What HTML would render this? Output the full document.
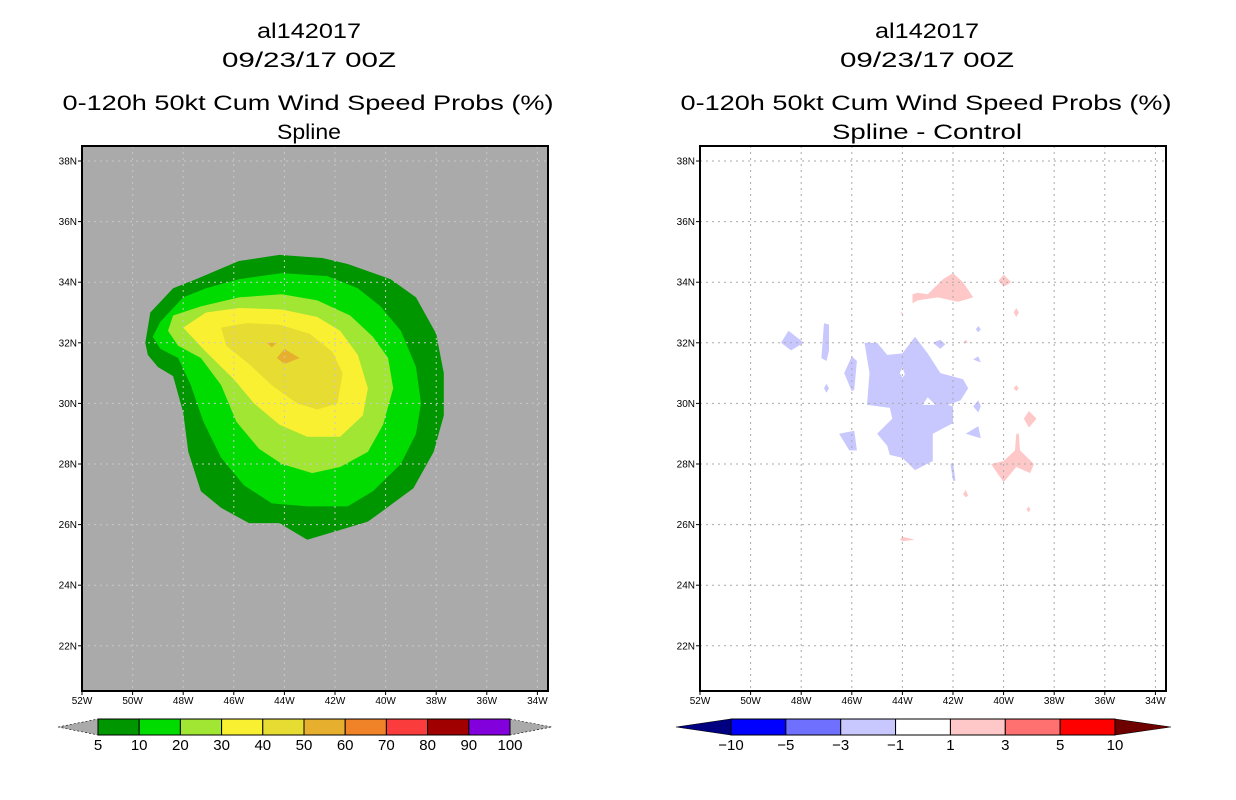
<!DOCTYPE html>
<html><head><meta charset="utf-8"><style>
html,body{margin:0;padding:0;background:#fff;}
svg{display:block;font-family:"Liberation Sans",sans-serif;}
</style></head><body>
<svg id="chart" width="1236" height="800" viewBox="0 0 1236 800">
<rect width="1236" height="800" fill="#fff"/>
<g id="titles">
<text x="309" y="38" font-size="21" text-anchor="middle" textLength="104" lengthAdjust="spacingAndGlyphs">al142017</text>
<text x="309" y="67" font-size="21" text-anchor="middle" textLength="174" lengthAdjust="spacingAndGlyphs">09/23/17 00Z</text>
<text x="308" y="110" font-size="21" text-anchor="middle" textLength="491" lengthAdjust="spacingAndGlyphs">0-120h 50kt Cum Wind Speed Probs (%)</text>
<text x="309" y="139" font-size="21" text-anchor="middle" textLength="64" lengthAdjust="spacingAndGlyphs">Spline</text>
<text x="927" y="38" font-size="21" text-anchor="middle" textLength="104" lengthAdjust="spacingAndGlyphs">al142017</text>
<text x="927" y="67" font-size="21" text-anchor="middle" textLength="174" lengthAdjust="spacingAndGlyphs">09/23/17 00Z</text>
<text x="926" y="110" font-size="21" text-anchor="middle" textLength="491" lengthAdjust="spacingAndGlyphs">0-120h 50kt Cum Wind Speed Probs (%)</text>
<text x="927" y="139" font-size="21" text-anchor="middle" textLength="190" lengthAdjust="spacingAndGlyphs">Spline - Control</text>
</g>
<g id="left"></g>
<g id="right"></g>
</svg>
<script>
// ---- data ----
const lonTicks = [52,50,48,46,44,42,40,38,36,34];
const latTicks = [38,36,34,32,30,28,26,24,22];
const probLevels = ['5','10','20','30','40','50','60','70','80','90','100'];
const probColors = ['#009600','#00dc00','#a0e632','#faf032','#e6dc32','#e6af2d','#f08228','#fa3c3c','#a00000','#8200dc'];
const diffLevels = ['-10','-5','-3','-1','1','3','5','10'];
const diffColors = ['#000080','#0000ff','#7070ff','#c8c8ff','#ffffff','#ffc8c8','#ff7070','#ff0000','#6e0000'];
// contour polygons, [lonW, latN]
const prob5 = [[49.5,32.0],[49.3,33.0],[48.4,33.8],[47.5,34.1],[45.8,34.7],[44.2,34.9],[42.5,34.8],[41.5,34.6],[39.8,34.1],[38.8,33.5],[38.0,32.3],[37.7,31.0],[37.7,29.6],[38.1,28.4],[38.9,27.2],[40.2,26.4],[40.7,26.1],[41.9,25.8],[43.1,25.5],[44.2,26.05],[45.4,26.05],[46.5,26.55],[47.3,27.1],[47.8,28.4],[48.0,29.7],[48.4,30.9],[49.0,31.2],[49.4,31.6]];
const prob10 = [[49.2,32.2],[48.9,32.7],[48.0,33.5],[47.1,33.8],[45.8,34.1],[44.1,34.3],[42.3,34.2],[41.1,33.8],[40.2,33.2],[39.4,32.4],[38.8,31.2],[38.6,30.0],[38.8,29.0],[39.4,28.0],[40.5,27.1],[41.5,26.6],[43.1,26.6],[44.5,26.7],[45.6,27.3],[46.5,28.2],[47.2,29.4],[47.7,30.6],[48.2,31.5],[48.9,31.8]];
const prob20 = [[48.6,32.4],[48.4,32.9],[47.3,33.2],[45.8,33.5],[44.1,33.6],[42.7,33.4],[41.4,32.9],[40.5,32.2],[39.9,31.5],[39.7,30.5],[40.1,29.3],[40.7,28.4],[41.8,27.9],[42.9,27.7],[44.1,28.0],[45.0,28.5],[45.9,29.4],[46.5,30.6],[47.3,31.5],[48.2,31.9]];
const prob30 = [[48.0,32.5],[47.1,33.0],[45.8,33.15],[44.1,33.1],[42.7,32.85],[41.8,32.4],[41.1,31.6],[40.7,30.5],[40.9,29.6],[41.8,28.9],[43.1,28.9],[44.2,29.3],[45.2,30.0],[46.0,30.8],[47.1,31.7]];
const prob40 = [[46.5,32.5],[45.5,32.65],[44.2,32.6],[43.0,32.3],[42.1,31.7],[41.7,31.0],[41.9,30.0],[42.7,29.8],[43.5,30.0],[44.5,30.6],[45.4,31.3],[46.3,31.9]];
const prob50a = [[44.3,31.5],[44.0,31.8],[43.4,31.5],[44.0,31.3]];
const prob50b = [[44.7,32.0],[44.3,32.0],[44.5,31.85]];
const diffNeg = [
 [[45.5,32.0],[45.0,32.0],[44.6,31.6],[44.0,31.65],[43.5,32.2],[43.0,31.65],[42.5,31.0],[41.6,30.8],[41.4,30.5],[41.7,30.1],[42.2,29.95],[42.0,29.9],[42.0,29.35],[42.8,29.0],[42.8,28.1],[43.5,27.8],[44.0,28.2],[44.5,28.3],[44.6,28.6],[45.0,29.0],[44.4,29.5],[44.5,29.85],[45.4,29.95],[45.3,31.0]],
 [[48.8,32.0],[48.5,32.4],[47.9,32.0],[48.4,31.75]],
 [[47.2,31.5],[47.1,32.65],[46.9,32.6],[46.9,31.75],[47.0,31.4]],
 [[46.3,31.0],[46.0,31.55],[45.8,31.4],[45.9,30.45],[46.0,30.4]],
 [[47.1,30.5],[47.0,30.65],[46.9,30.5],[47.0,30.35]],
 [[46.5,29.0],[45.9,29.1],[45.8,28.45],[46.1,28.45]],
 [[42.8,32.0],[42.5,32.1],[42.3,31.95],[42.5,31.8]],
 [[41.1,32.45],[41.0,32.55],[40.9,32.45],[41.0,32.35]],
 [[41.2,31.45],[41.0,31.55],[40.9,31.35]],
 [[41.2,29.9],[41.0,30.1],[40.9,29.9],[41.0,29.7]],
 [[41.5,29.0],[41.0,29.25],[40.9,28.85]],
 [[42.1,28.0],[42.0,28.05],[41.9,27.45],[42.0,27.45]]
];
const diffHoles = [
 [[43.2,29.95],[43.0,30.2],[42.7,29.95]],
 [[44.1,31.0],[44.0,31.2],[43.9,30.95],[44.0,30.85]]
];
const diffPos = [
 [[43.6,33.6],[43.4,33.65],[43.0,33.6],[42.4,34.1],[42.0,34.3],[41.6,34.0],[41.2,33.5],[41.8,33.35],[42.6,33.5],[43.4,33.4],[43.6,33.3]],
 [[40.2,34.05],[40.0,34.25],[39.7,34.0],[40.0,33.85]],
 [[39.6,33.0],[39.5,33.15],[39.4,33.0],[39.5,32.85]],
 [[41.6,32.0],[41.5,32.1],[41.4,32.0]],
 [[39.6,30.5],[39.5,30.6],[39.4,30.5],[39.5,30.4]],
 [[39.2,29.5],[39.0,29.75],[38.7,29.5],[39.0,29.2]],
 [[40.5,28.0],[40.0,28.1],[39.55,28.45],[39.5,29.0],[39.4,29.0],[39.35,28.45],[38.8,28.0],[38.95,27.7],[39.5,27.9],[40.0,27.4]],
 [[41.6,27.0],[41.5,27.15],[41.4,26.95],[41.5,26.9]],
 [[39.1,26.5],[39.0,26.6],[38.95,26.5],[39.0,26.4]],
 [[44.1,25.5],[44.0,25.6],[43.5,25.5],[44.0,25.45]],
 [[44.1,33.0],[44.0,33.0],[43.95,32.9]]
];
// ---- drawing ----
const NS='http://www.w3.org/2000/svg';
function mk(tag, attrs, parent){const e=document.createElementNS(NS,tag);for(const k in attrs)e.setAttribute(k,attrs[k]);parent.appendChild(e);return e;}
function axes(x0){
  const y0=146,w=466,h=545;
  return {x0,y0,w,h,
    X:lonW=>x0+(52-lonW)*25.3,
    Y:lat=>161+(38-lat)*30.3};
}
function poly(ax,pts,fill,parent,name){
  const p=mk('polygon',{points:pts.map(q=>ax.X(q[0]).toFixed(1)+','+ax.Y(q[1]).toFixed(1)).join(' '),fill:fill},parent);
  
  
}
function frame(ax,g,bg,gridColor,side){
  const b=mk('rect',{x:ax.x0,y:ax.y0,width:ax.w,height:ax.h,fill:bg},g);
  
  
}
function gridAndAxes(ax,g,gridColor,side){
  lonTicks.forEach(l=>{const x=ax.X(l);
    if(l<52){const gl=mk('line',{x1:x,y1:ax.y0,x2:x,y2:ax.y0+ax.h,stroke:gridColor,'stroke-width':1,'stroke-dasharray':'2,4'},g);
      
      }
    const t=mk('line',{x1:x,y1:ax.y0+ax.h,x2:x,y2:ax.y0+ax.h+4,stroke:'#000'},g);
    
    
    const tx=mk('text',{x:x,y:ax.y0+ax.h+13,'font-size':10,'text-anchor':'middle'},g);tx.textContent=l+'W';
    
    
  });
  latTicks.forEach(l=>{const y=ax.Y(l);
    const gl=mk('line',{x1:ax.x0,y1:y,x2:ax.x0+ax.w,y2:y,stroke:gridColor,'stroke-width':1,'stroke-dasharray':'2,4'},g);
    
    
    const t=mk('line',{x1:ax.x0-4,y1:y,x2:ax.x0,y2:y,stroke:'#000'},g);
    
    
    const tx=mk('text',{x:ax.x0-5,y:y+3.5,'font-size':10,'text-anchor':'end'},g);tx.textContent=l+'N';
    
    
  });
  const f=mk('rect',{x:ax.x0,y:ax.y0,width:ax.w,height:ax.h,fill:'none',stroke:'#000','stroke-width':2},g);
  
  
}
function colorbar(g,x0,x1,boxL,boxR,colors,labels,tipL,tipR,side){
  const y0=719,y1=735,ym=727,n=labels.length-1;
  const a=mk('polygon',{points:`${x0},${ym} ${boxL},${y0} ${boxL},${y1}`,fill:tipL,stroke:'#000','stroke-width':0.6,'stroke-dasharray':tipL==='#aaaaaa'?'2,2':'none'},g);
  
  
  const b=mk('polygon',{points:`${boxR},${y0} ${x1},${ym} ${boxR},${y1}`,fill:tipR,stroke:'#000','stroke-width':0.6,'stroke-dasharray':tipR==='#aaaaaa'?'2,2':'none'},g);
  
  
  const bw=(boxR-boxL)/n;
  colors.forEach((c,i)=>{
    const r=mk('rect',{x:boxL+i*bw,y:y0,width:bw,height:y1-y0,fill:c,stroke:'#000','stroke-width':1},g);
    
    
  });
  labels.forEach((s,i)=>{
    const t=mk('text',{x:boxL+i*bw,y:750,'font-size':15,'text-anchor':'middle'},g);
    t.textContent=s.replace('-','\u2212');
    
    
  });
}
// left panel
const gl=document.getElementById('left');
const axL=axes(82);
frame(axL,gl,'#aaaaaa','#c8c8c8','left');
const clipL=mk('g',{},gl);
[prob5,prob10,prob20,prob30,prob40].forEach((p,i)=>poly(axL,p,probColors[i],clipL,'prob-contour-'+probLevels[i]));
poly(axL,prob50a,probColors[5],clipL,'prob-contour-50');
poly(axL,prob50b,probColors[5],clipL,'prob-contour-50-small');
gridAndAxes(axL,gl,'#c8c8c8','left');
colorbar(gl,58,552,98,510,probColors,probLevels,'#aaaaaa','#aaaaaa','left');
// right panel
const gr=document.getElementById('right');
const axR=axes(700);
frame(axR,gr,'#ffffff','#aaaaaa','right');
diffNeg.forEach(p=>poly(axR,p,diffColors[3],gr,'negative-diff-region'));
diffHoles.forEach(p=>poly(axR,p,'#ffffff',gr,'diff-hole'));
diffPos.forEach(p=>poly(axR,p,diffColors[5],gr,'positive-diff-region'));
gridAndAxes(axR,gr,'#aaaaaa','right');
colorbar(gr,676,1171,731,1115,diffColors.slice(1,8),diffLevels,diffColors[0],diffColors[8],'right');
</script>
</body></html>
